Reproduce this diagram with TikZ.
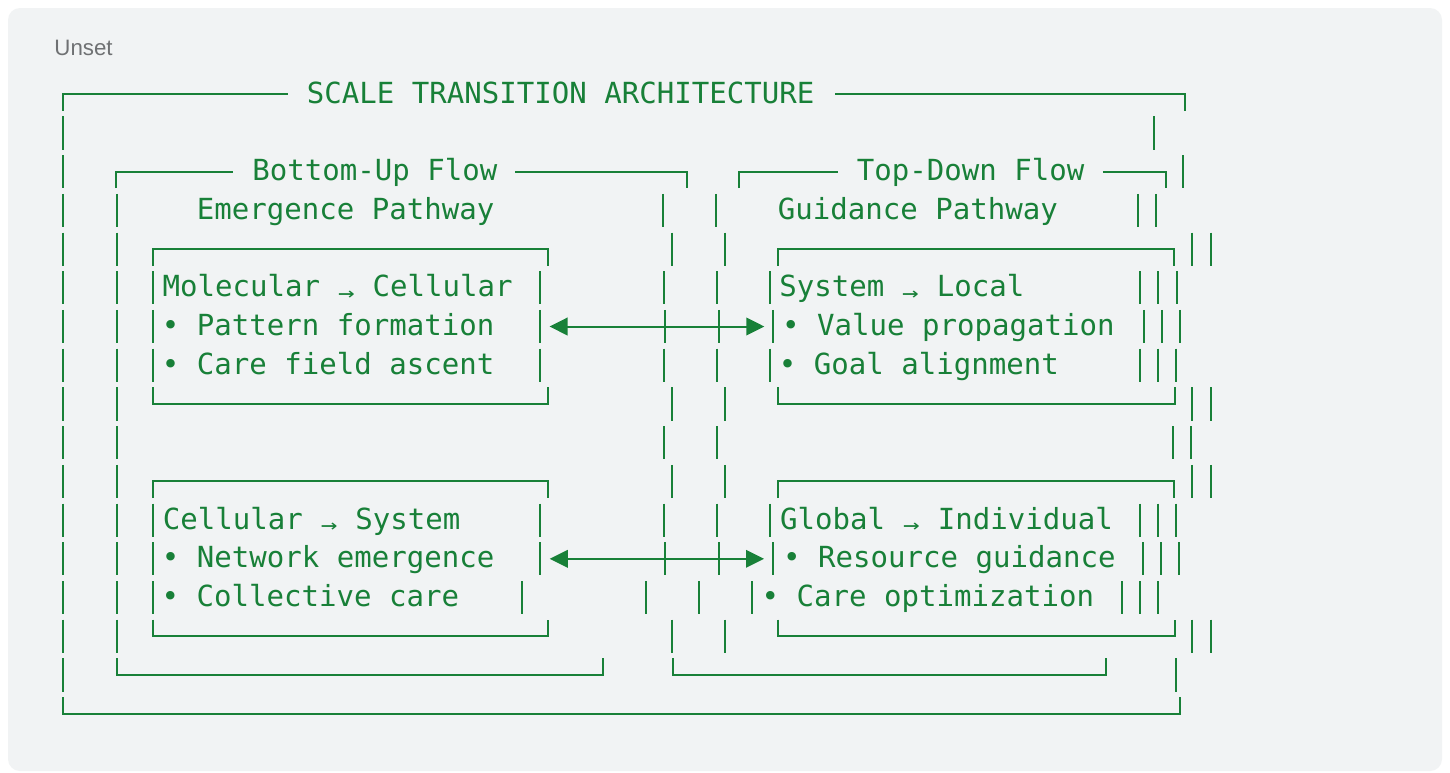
\documentclass[tikz,border=0pt]{standalone}
\usepackage{fontspec}
\usepackage{graphicx}
\usetikzlibrary{arrows.meta}
\newfontfamily\codefont{DejaVu Sans Mono}
\newfontfamily\labelfont{Liberation Sans}
\definecolor{codegreen}{HTML}{188038}
\definecolor{panelgray}{HTML}{F1F3F4}
\definecolor{labelgray}{HTML}{6F7173}
% thin, low arrow occupying one monospace cell
\newcommand\ra{\makebox[0.602em]{\raisebox{-0.12em}{\scalebox{0.95}[0.75]{→}}}}
% vertical box-drawing bars of one text row (row centre #1, x list #2)
\newcommand\vbars[2]{\foreach \bx in {#2}{\draw[ascii] (\bx,#1-16.6) -- (\bx,#1+16.6);}}
% top and bottom edges of a box with their corners
\newcommand\boxtop[3]{\draw[ascii] (#2,#1+16.6) -- (#2,#1) -- (#3,#1) -- (#3,#1+16.6);}
\newcommand\boxbot[3]{\draw[ascii] (#2,#1-16.6) -- (#2,#1) -- (#3,#1) -- (#3,#1-16.6);}
\begin{document}
\begin{tikzpicture}[x=1pt, y=-1pt,
  ascii/.style={draw=codegreen, line width=2pt},
  code/.style={font=\codefont\fontsize{29.07}{35}\selectfont, text=codegreen, inner sep=0pt, anchor=base},
  dbl/.style={ascii, {Triangle[length=18pt,width=17.5pt]}-{Triangle[length=18pt,width=17.5pt]}}]
\useasboundingbox (0,0) rectangle (1450,772);
\fill[white] (0,0) rectangle (1450,772);
\fill[panelgray, rounded corners=12pt] (8,8) rectangle (1442,771);
\node[font=\labelfont\fontsize{22.3}{26}\selectfont, text=labelgray, inner sep=0pt, anchor=base west] (lang) at (54.2,55.3) {Unset};

% ---- text rows ----
\node[code] (title) at (560.6,103.2) {SCALE TRANSITION ARCHITECTURE};
\node[code] (bu) at (374.8,180.6) {Bottom-Up Flow};
\node[code] (td) at (970.5,180.6) {Top-Down Flow};
\node[code] (em) at (345.6,219.4) {Emergence Pathway};
\node[code] (gu) at (917.8,219.4) {Guidance Pathway};
\node[code] (mc) at (337.6,296.8) {Molecular \ra{} Cellular};
\node[code] (sl) at (901.8,296.8) {System \ra{} Local};
\node[code] (pf) at (328.2,335.5) {• Pattern formation};
\node[code] (vp) at (948.5,335.5) {• Value propagation};
\node[code] (cf) at (328.2,374.2) {• Care field ascent};
\node[code] (ga) at (918.8,374.2) {• Goal alignment};
\node[code] (cs) at (311.6,529.1) {Cellular \ra{} System};
\node[code] (gi) at (946.5,529.1) {Global \ra{} Individual};
\node[code] (ne) at (328.2,567.8) {• Network emergence};
\node[code] (rg) at (949.5,567.8) {• Resource guidance};
\node[code] (cc) at (310.4,606.6) {• Collective care};
\node[code] (co) at (927.9,606.6) {• Care optimization};

% ---- row 0: outer frame top ----
\draw[ascii] (63.3,94.2+16.6) -- (63.3,94.2) -- (288.3,94.2);
\draw[ascii] (835,94.2) -- (1185,94.2) -- (1185,94.2+16.6);
% ---- row 1 ----
\vbars{132.9}{63.2,1154.3}
% ---- row 2: flow frames ----
\vbars{171.6}{63.2,1183}
\draw[ascii] (116,171.6+16.6) -- (116,171.6) -- (232.9,171.6);
\draw[ascii] (515.4,171.6) -- (686.5,171.6) -- (686.5,171.6+16.6);
\draw[ascii] (739,171.6+16.6) -- (739,171.6) -- (837.5,171.6);
\draw[ascii] (1102.9,171.6) -- (1165.5,171.6) -- (1165.5,171.6+16.6);
% ---- row 3 ----
\vbars{210.4}{63.2,116.8,662.5,716,1137.6,1156}
% ---- rows 4-8: first pair of boxes ----
\vbars{249.1}{63.2,116.8,671.8,725,1192.2,1210.5}
\boxtop{249.1}{152.5}{548.2}
\boxtop{249.1}{778}{1174.3}
\vbars{287.8}{63.2,116.8,152.5,540,663.5,716.5,769.6,1139.8,1158.2,1176.6}
\vbars{326.5}{63.2,116.8,152.5,540,665,719.4,773.3,1143.6,1162,1179.8}
\vbars{365.2}{63.2,116.8,152.5,540,663.5,716.5,769.6,1139.5,1157.7,1176}
\vbars{404.0}{63.2,116.8,671.8,725,1192.2,1210.5}
\boxbot{404.0}{152.5}{548.2}
\boxbot{404.0}{778}{1174.5}
% ---- row 9 ----
\vbars{442.7}{63.2,116.8,663.5,716.5,1173.3,1191.3}
% ---- rows 10-14: second pair of boxes ----
\vbars{481.4}{63.2,116.8,671.8,725,1192.2,1210.5}
\boxtop{481.4}{152.5}{548.2}
\boxtop{481.4}{778}{1174.3}
\vbars{520.1}{63.2,116.8,152.5,540,663.5,716.7,770,1140.3,1158.3,1176.3}
\vbars{558.8}{63.2,116.8,152.5,540,665,719.4,773.3,1143.3,1161.3,1179.3}
\vbars{597.6}{63.2,116.8,152.5,522.1,645.8,698.8,752,1121.5,1139.8,1157.9}
\vbars{636.3}{63.2,116.8,671.8,725,1192.2,1210.5}
\boxbot{636.3}{152.5}{548.2}
\boxbot{636.3}{778}{1174.5}
% ---- row 15: flow frames bottom ----
\vbars{675.0}{63.2,1176.2}
\boxbot{675.0}{116.8}{602.5}
\boxbot{675.0}{673.3}{1106.2}
% ---- row 16: outer frame bottom ----
\boxbot{713.7}{63.2}{1180.2}

% ---- two-way links between the pathways ----
\coordinate (upA) at (549.5,326.5);
\coordinate (dnA) at (764.3,326.5);
\coordinate (upB) at (549.8,558.8);
\coordinate (dnB) at (764.0,558.8);
\draw[dbl] (upA) -- (dnA);
\draw[dbl] (upB) -- (dnB);
\end{tikzpicture}
\end{document}
